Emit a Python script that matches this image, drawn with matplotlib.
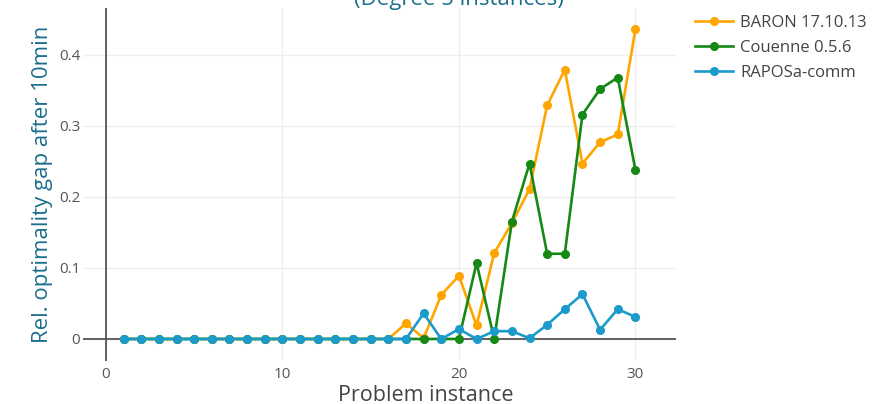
import matplotlib
matplotlib.use("Agg")
import matplotlib.pyplot as plt

instances = list(range(1, 31))
baron = [0] * 16 + [0.022, 0.001, 0.062, 0.089, 0.019, 0.121, 0.163, 0.211,
                    0.329, 0.379, 0.247, 0.277, 0.288, 0.436]
couenne = [0] * 20 + [0.107, 0, 0.165, 0.247, 0.120, 0.120, 0.316, 0.352,
                      0.368, 0.238]
raposa = [0] * 17 + [0.036, 0, 0.014, 0, 0.011, 0.011, 0.001, 0.020, 0.042,
                     0.063, 0.013, 0.042, 0.031]
x_ticks = [0, 10, 20, 30]
y_ticks = [0, 0.1, 0.2, 0.3, 0.4]
y_tick_labels = ["0", "0.1", "0.2", "0.3", "0.4"]

plt.rcParams["font.family"] = ["Open Sans", "DejaVu Sans"]

fig = plt.figure(figsize=(8.75, 4.04), dpi=100)
# plot area in pixels: x 83..676, y 8..361
ax = fig.add_axes([83 / 875, 43 / 404, (676 - 83) / 875, (361 - 8) / 404])

ax.plot(instances, baron, color="#FFA500", lw=1.9, marker="o", ms=5.5, label="BARON 17.10.13", zorder=3)
ax.plot(instances, couenne, color="#158815", lw=1.9, marker="o", ms=5.5, label="Couenne 0.5.6", zorder=4)
ax.plot(instances, raposa, color="#1B9BCB", lw=1.9, marker="o", ms=5.5, label="RAPOSa-comm", zorder=5)

ax.set_xlim(-1.3, 32.3)
ax.set_ylim(-0.031, 0.466)
ax.set_xticks(x_ticks)
ax.set_yticks(y_ticks)
ax.set_yticklabels(y_tick_labels)
ax.tick_params(length=0, labelsize=11, colors="#555555")
ax.tick_params(axis="x", pad=4)
ax.tick_params(axis="y", pad=2)
ax.grid(color="#eeeeee", lw=1)
ax.set_axisbelow(True)
for s in ax.spines.values():
    s.set_visible(False)
ax.axhline(0, color="#555555", lw=1.3, zorder=2)
ax.axvline(0, color="#555555", lw=1.3, zorder=2)

ax.set_xlabel("Problem instance", fontsize=15.5, color="#444444", labelpad=0)
ax.xaxis.set_label_coords((426 - 83) / 593, -0.068)
ax.xaxis.label.set_va("top")
ax.set_ylabel("Rel. optimality gap after 10min", fontsize=16, color="#1C6F8C", labelpad=4)
fig.text(459 / 875, 1 - 4.5 / 404, "(Degree 5 instances)", fontsize=16, color="#1C6F8C",
         ha="center", va="baseline")

fig.legend(*ax.get_legend_handles_labels(), loc="upper left",
           bbox_to_anchor=(695 / 875, 1 - 15 / 404), frameon=False, fontsize=12,
           borderpad=0, borderaxespad=0, handlelength=2.3, handletextpad=0.42,
           labelcolor="#444444", labelspacing=0.55)

fig.savefig("out.png", dpi=100)
